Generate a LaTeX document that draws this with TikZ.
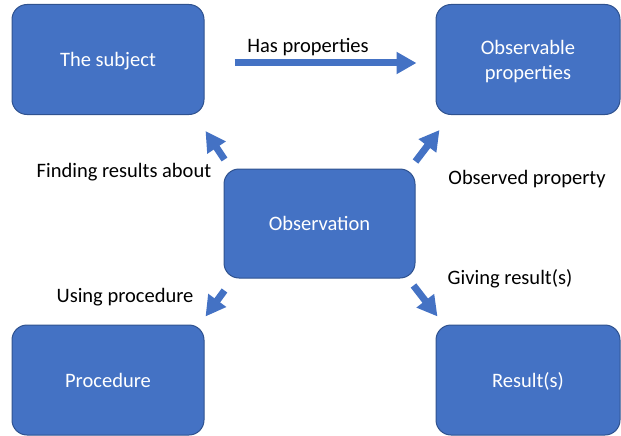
\documentclass[tikz,border=0pt]{standalone}
\usepackage{fontspec}
\setmainfont{Carlito}
\usetikzlibrary{calc,
                 arrows.meta,
                 positioning
  }
\definecolor{boxblue}{HTML}{4472C4}
\definecolor{boxline}{HTML}{2F528F}

\begin{document}
\begin{tikzpicture}[
      x=1pt, y=-1pt,
      box/.style={
                rectangle,
                rounded corners=15pt,
                draw=boxline,
                line width=1pt,
                fill=boxblue,
                text=white,
                align=center,
                text depth=0pt,
                minimum height=110pt,
                minimum width=192pt,
                font=\fontsize{20.5}{25}\selectfont
                },
      bigarrow/.style={
                draw=boxblue,
                line width=7pt,
                -{Triangle[length=20pt,width=21pt]}
                },
      lbl/.style={font=\fontsize{20.5}{24}\selectfont, text=black, inner sep=0pt}
]
\useasboundingbox (0,0) rectangle (621,436);

\node[box] (subj) at (108,59.5) {The subject};
\node[box, minimum width=184pt] (obsprop) at (528,59.5) {Observable\\properties};
\node[box, minimum width=191pt, minimum height=109pt] (obs) at (319.5,223.5) {Observation};
\node[box] (proc) at (108,380) {Procedure};
\node[box, minimum width=184pt] (res) at (528,380) {Result(s)};

% arrows between the boxes
\draw[bigarrow] ($(subj.east)+(30,3.5)$) -- ($(obsprop.west)+(-19,3.5)$);
\draw[bigarrow] ($(obs.north west)+(1,-9)$) -- ($(subj.south east)+(1,16)$);
\draw[bigarrow] ($(obs.north east)+(0,-7)$) -- ($(obsprop.south west)+(4,15)$);
\draw[bigarrow] ($(obs.south west)+(1,12)$) -- ($(proc.north east)+(1,-8)$);
\draw[bigarrow] ($(obs.south east)+(-2,7)$) -- ($(res.north west)+(2,-8)$);

% labels
\node[lbl] (lhas) at (308,47) {Has properties};
\node[lbl] (lfind) at (124,172) {Finding results about};
\node[lbl] (lobs) at (527,179) {Observed property};
\node[lbl] (luse) at (125,297) {Using procedure};
\node[lbl] (lgive) at (510,279) {Giving result(s)};

\end{tikzpicture}
\end{document}
